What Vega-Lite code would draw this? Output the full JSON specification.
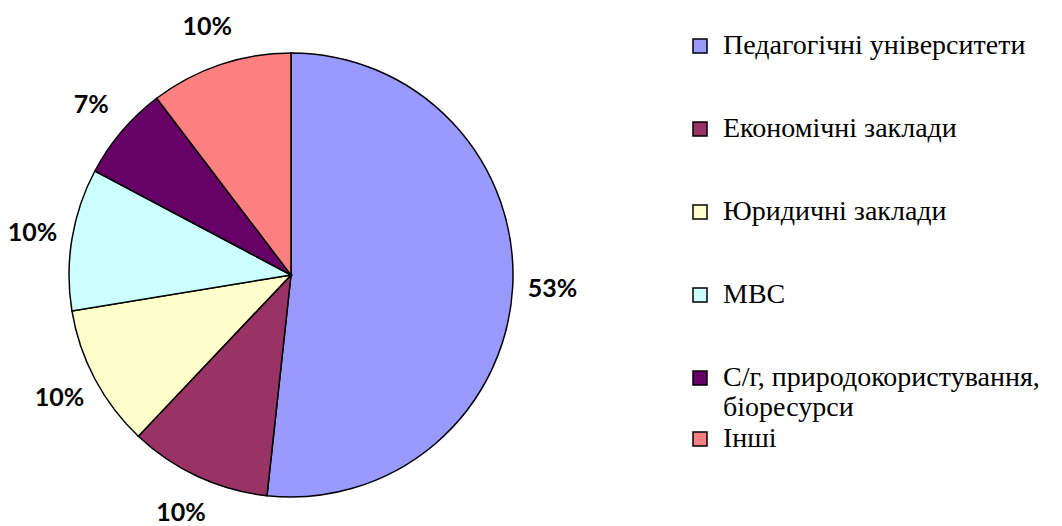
{
  "$schema": "https://vega.github.io/schema/vega-lite/v6.json",
  "width": 582,
  "height": 502,
  "padding": {"top": 24, "left": 0, "right": 480, "bottom": 0},
  "autosize": {"type": "none"},
  "background": "white",
  "config": {
    "view": {"stroke": null},
    "font": "Liberation Serif",
    "legend": {"labelFont": "Liberation Serif, Times New Roman, serif"}
  },
  "data": {
    "values": [
      {"category": "Педагогічні університети", "value": 15, "label": "53%", "order": 1},
      {"category": "Економічні заклади", "value": 3, "label": "10%", "order": 2},
      {"category": "Юридичні заклади", "value": 3, "label": "10%", "order": 3},
      {"category": "МВС", "value": 3, "label": "10%", "order": 4},
      {"category": "С/г, природокористування, біоресурси", "value": 2, "label": "7%", "order": 5},
      {"category": "Інші", "value": 3, "label": "10%", "order": 6}
    ]
  },
  "encoding": {
    "theta": {"field": "value", "type": "quantitative", "stack": true},
    "order": {"field": "order", "type": "quantitative"}
  },
  "layer": [
    {
      "mark": {"type": "arc", "outerRadius": 222, "strokeWidth": 1.5},
      "encoding": {
        "fill": {
          "field": "category",
          "type": "nominal",
          "sort": {"field": "order"},
          "scale": {
            "domain": ["Педагогічні університети", "Економічні заклади", "Юридичні заклади", "МВС", "С/г, природокористування, біоресурси", "Інші"],
            "range": ["#9999FF", "#993366", "#FFFFCC", "#CCFFFF", "#660066", "#FF8080"]
          },
          "legend": {
            "title": null,
            "orient": "none",
            "legendX": 686,
            "legendY": 8,
            "values": ["Педагогічні університети", "Економічні заклади", "Юридичні заклади", "МВС", "С/г, природокористування, біоресурси"],
            "symbolType": "square",
            "symbolSize": 196,
            "symbolStrokeColor": "black",
            "symbolStrokeWidth": 1.5,
            "symbolOpacity": 1,
            "labelFont": "Liberation Serif, Times New Roman, serif",
            "labelFontSize": 28,
            "labelLineHeight": 24,
            "labelColor": "black",
            "labelOffset": 9,
            "labelLimit": 400,
            "rowPadding": 55,
            "labelExpr": "datum.label == 'С/г, природокористування, біоресурси' ? ['С/г, природокористування,', 'біоресурси'] : datum.label"
          }
        },
        "stroke": {
          "field": "category",
          "type": "nominal",
          "scale": {
            "domain": ["Інші", "Педагогічні університети", "Економічні заклади", "Юридичні заклади", "МВС", "С/г, природокористування, біоресурси"],
            "range": ["black", "black", "black", "black", "black", "black"]
          },
          "legend": {
            "title": null,
            "orient": "none",
            "legendX": 686,
            "legendY": 401,
            "values": ["Інші"],
            "symbolType": "square",
            "symbolSize": 196,
            "symbolFillColor": "#FF8080",
            "symbolStrokeWidth": 1.5,
            "symbolOpacity": 1,
            "labelFont": "Liberation Serif, Times New Roman, serif",
            "labelFontSize": 28,
            "labelColor": "black",
            "labelOffset": 9,
            "labelLimit": 400
          }
        }
      }
    },
    {
      "mark": {"type": "text", "radius": 262, "font": "Lato", "fontWeight": "bold", "fontSize": 25, "color": "black", "align": "center", "baseline": "middle"},
      "encoding": {
        "text": {"field": "label", "type": "nominal"}
      }
    }
  ]
}
